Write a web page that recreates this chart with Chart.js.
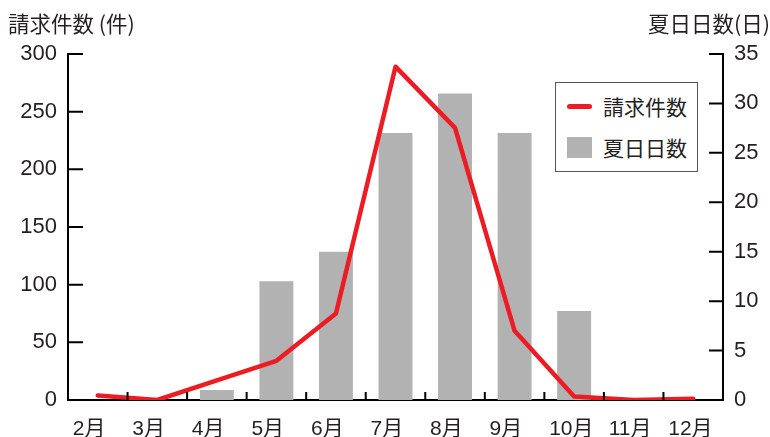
<!DOCTYPE html>
<html>
<head>
<meta charset="utf-8">
<script src="https://cdn.jsdelivr.net/npm/chart.js@4"></script>
<style>
  html, body { margin: 0; padding: 0; background: #fff; }
  #wrap { position: relative; width: 770px; height: 437px; }
  .txt { position: absolute; font-family: "Noto Sans CJK JP", "Liberation Sans", sans-serif; color: #231f20; white-space: nowrap; }
  #ttlL { left: 8px; top: 7px; font-size: 21.5px; }
  #ttlR { right: 0px; top: 7px; font-size: 21.5px; }
  #legend { position: absolute; left: 555px; top: 82px; width: 143px; height: 90px; border: 1px solid #555; background: #fff; box-sizing: border-box; }
  .row { position: absolute; left: 11px; display: flex; align-items: center; font-size: 21px; }
  .swLine { width: 25px; height: 5px; background: #ed1c24; border-radius: 3px; margin-right: 11px; }
  .swBox { width: 25px; height: 21px; background: #b2b2b2; margin-right: 11px; }
</style>
</head>
<body>
<div id="wrap">
  <canvas id="chart" width="770" height="437"></canvas>
  <div class="txt" id="ttlL">請求件数 (件)</div>
  <div class="txt" id="ttlR">夏日日数(日)</div>
  <div id="legend">
    <div class="row txt" style="top:8px;"><span class="swLine"></span>請求件数</div>
    <div class="row txt" style="top:49px;"><span class="swBox"></span>夏日日数</div>
  </div>
</div>
<script>
  const months = ["2月", "3月", "4月", "5月", "6月", "7月", "8月", "9月", "10月", "11月", "12月"];
  const claims = [4, 0, 17, 34, 75, 289, 236, 60, 3, 0, 1];
  const hotDays = [0, 0, 1, 12, 15, 27, 31, 27, 9, 0, 0];
  const leftTicks = [0, 50, 100, 150, 200, 250, 300];
  const rightTicks = [0, 5, 10, 15, 20, 25, 30, 35];

  const FONT = { family: "'Liberation Sans', 'Noto Sans CJK JP', sans-serif", size: 22 };
  const FONT_X = { family: "'Liberation Sans', 'Noto Sans CJK JP', sans-serif", size: 21 };

  // inward tick marks drawn from the scales
  const tickMarks = {
    id: "tickMarks",
    afterDraw(chart) {
      const { ctx, scales } = chart;
      const yl = scales.yL, yr = scales.yR, x = scales.x;
      ctx.save();
      ctx.strokeStyle = "#000";
      ctx.lineWidth = 2;
      ctx.beginPath();
      leftTicks.forEach(v => {
        const py = yl.getPixelForValue(v);
        ctx.moveTo(yl.right, py);
        ctx.lineTo(yl.right + 15, py);
      });
      rightTicks.forEach(v => {
        const py = yr.getPixelForValue(v);
        ctx.moveTo(yr.left, py);
        ctx.lineTo(yr.left - 14, py);
      });
      for (let i = 1; i < months.length; i++) {
        const px = (x.getPixelForTick(i - 1) + x.getPixelForTick(i)) / 2;
        ctx.moveTo(px, x.top);
        ctx.lineTo(px, x.top - 8);
      }
      ctx.stroke();
      ctx.restore();
    }
  };

  new Chart(document.getElementById("chart"), {
    data: {
      labels: months,
      datasets: [
        {
          type: "line",
          label: "請求件数",
          data: claims,
          yAxisID: "yL",
          borderColor: "#ed1c24",
          borderWidth: 4.5,
          borderCapStyle: "round",
          borderJoinStyle: "round",
          pointRadius: 0,
          tension: 0,
          order: 0,
        },
        {
          type: "bar",
          label: "夏日日数",
          data: hotDays,
          yAxisID: "yR",
          backgroundColor: "#b2b2b2",
          barPercentage: 0.57,
          categoryPercentage: 1,
          order: 1,
        },
      ],
    },
    options: {
      responsive: false,
      animation: false,
      layout: { padding: { top: 54, left: 0, right: 0, bottom: 0 } },
      plugins: { legend: { display: false }, tooltip: { enabled: false } },
      scales: {
        x: {
          offset: true,
          grid: { display: false, drawTicks: false },
          border: { color: "#000", width: 2 },
          ticks: { color: "#231f20", font: FONT_X, padding: 17, align: "start", labelOffset: -25, maxRotation: 0, autoSkip: false },
          afterFit(s) { s.height = 37; },
        },
        yL: {
          position: "left",
          min: 0, max: 300,
          grid: { display: false, drawTicks: false },
          border: { color: "#000", width: 2 },
          ticks: { stepSize: 50, color: "#231f20", font: FONT, padding: 11 },
          afterFit(s) { s.width = 68; },
        },
        yR: {
          position: "right",
          min: 0, max: 35,
          grid: { display: false, drawTicks: false },
          border: { color: "#000", width: 2 },
          ticks: { stepSize: 5, color: "#231f20", font: FONT, padding: 11 },
          afterFit(s) { s.width = 47; },
        },
      },
    },
    plugins: [tickMarks],
  });
</script>
</body>
</html>
